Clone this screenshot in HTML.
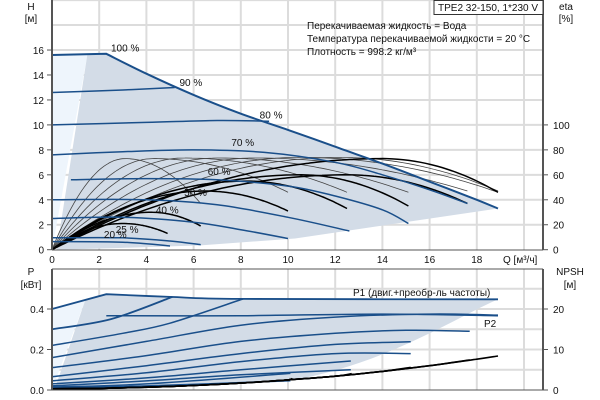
<!DOCTYPE html>
<html><head><meta charset="utf-8"><style>
html,body{margin:0;padding:0;background:#fff;}
svg{display:block;font-family:"Liberation Sans","DejaVu Sans",sans-serif;}
</style></head><body>
<svg id="c" width="600" height="400" viewBox="0 0 600 400"></svg>
<script>
// ---------- data ----------
const qTicks=[0,2,4,6,8,10,12,14,16,18];
const hTicks=[0,2,4,6,8,10,12,14,16];
const etaTicks=[0,20,40,60,80,100];
const pTicks=[0.0,0.2,0.4];
const npshTicks=[0,10,20];
const speedNames=["100 %","90 %","80 %","70 %","60 %","50 %","40 %","25 %","20 %"];
const speedQ=[
 [0,2.3,4,6,8,10,12,14,16,18,18.9],
 [0,3,5.2],
 [0,4,7,9.2],
 [0,3,6,9,12,14,16,17.6],
 [0.8,4,7,10,12,14,15.1],
 [0,4,7,10,12.6],
 [0,3,6,8,10],
 [0,3,5,6.3],
 [0,3,5]];
const speedH=[
 [15.6,15.7,14.1,12.4,10.9,9.6,8.25,6.9,5.45,4.0,3.3],
 [12.6,12.8,13.0],
 [10.0,10.2,10.35,10.3],
 [7.6,7.85,8.0,7.8,7.0,6.0,4.8,3.7],
 [5.6,5.7,5.6,5.1,4.3,3.2,2.1],
 [4.0,4.0,3.6,2.6,1.5],
 [2.5,2.6,2.2,1.6,0.9],
 [0.95,0.95,0.7,0.4],
 [0.65,0.6,0.3]];
const labelQ=[2.5,5.4,8.8,7.6,6.6,5.6,4.4,2.7,2.2];
const labelH=[15.9,13.1,10.5,8.3,6.0,4.3,2.9,1.35,0.95];
const etaThinPeakQ=[3.1,4.3,5.6,7.0,8.6,10.5,12.2];
const etaThinPeak=[73,73,73.5,73.5,73.5,74,74];
const etaThinEndQ=[6.3,10,12.5,15.1,17.6,18.9,18.9];
const etaThinEnd=[37,46,46,46,47,46,47];
const etaThickPeakQ=[3.0,4.2,6.5,8.2,10.5,12.5,14];
const etaThickPeak=[21,30,47,55,60,60,73];
const etaThickEndQ=[4.9,6.3,10,12.5,15.1,17.6,18.9];
const etaThickEnd=[13,19,31,33,35,37,46];
const powQ=[
 [0,2.3,5,8,18.9],[0,2.5,5.1],[0,3,5,8.1],[2.3,8,14,18.9],
 [0,4,8,12,16,18.9],[0,4,8,12,15,17.7],[0,4,8,12,15.2],[0,4,8,12,15.2],
 [0,4,8,12.66],[0,4,8,12.66],[0,4,10.1],[0,4,10.1]];
const powP=[
 [0.40,0.473,0.46,0.45,0.448],[0.30,0.35,0.46],[0.22,0.28,0.33,0.45],[0.367,0.367,0.375,0.367],
 [0.16,0.24,0.32,0.36,0.375,0.37],[0.11,0.17,0.24,0.28,0.295,0.29],[0.065,0.12,0.18,0.225,0.238],[0.045,0.085,0.14,0.18,0.18],
 [0.03,0.06,0.10,0.143],[0.02,0.045,0.075,0.10],[0.015,0.03,0.082],[0.01,0.02,0.046]];
const npshQ=[0,2,4,6,8,10,12,14,16,18,18.9];
const npshVal=[0.3,0.4,0.7,1.1,1.7,2.5,3.4,4.6,6.0,7.6,8.4];
const npshEnds=[10.1,12.7,15.2,17.7,18.9];
// ---------- scales ----------
const X=q=>52+q*23.6, Y=h=>249.7-h*12.48, YE=e=>Y(e/10), YP=p=>390-p*202.5, YN=n=>YP(n/50);
const svg=document.getElementById('c');const NS='http://www.w3.org/2000/svg';
function mk(t,a,txt){const e=document.createElementNS(NS,t);for(const k in a)e.setAttribute(k,a[k]);if(txt!==undefined)e.textContent=txt;svg.appendChild(e);return e;}
function smooth(pts,kink){let d='M'+pts[0][0].toFixed(1)+','+pts[0][1].toFixed(1);
 let start=0;if(kink){d+=' L'+pts[1][0].toFixed(1)+','+pts[1][1].toFixed(1);start=1;}
 for(let i=start;i<pts.length-1;i++){const p0=(i>start?pts[i-1]:pts[i]),p1=pts[i],p2=pts[i+1],p3=pts[i+2]||p2;
 d+=' C'+(p1[0]+(p2[0]-p0[0])/6).toFixed(1)+','+(p1[1]+(p2[1]-p0[1])/6).toFixed(1)+' '+(p2[0]-(p3[0]-p1[0])/6).toFixed(1)+','+(p2[1]-(p3[1]-p1[1])/6).toFixed(1)+' '+p2[0].toFixed(1)+','+p2[1].toFixed(1);}
 return d;}
function etaPts(qp,pk,qe,ee){const pts=[];for(let i=0;i<=40;i++){const q=qe*i/40;let v;
 if(q<=qp)v=pk*(1-Math.pow((qp-q)/qp,2));else v=pk-(pk-ee)*Math.pow((q-qp)/(qe-qp),2);pts.push([X(q),YE(v)]);}return pts;}
let e;
for(let h=2;h<=20;h+=2){e=mk('line',{x1:52,x2:543,y1:Y(h),y2:Y(h),stroke:'#dcdcdc','stroke-width':2});}
for(let q=2;q<=20;q+=2){e=mk('line',{x1:X(q),x2:X(q),y1:0,y2:250,stroke:'#dcdcdc','stroke-width':2});}
e=mk('path',{d:'M'+X(0)+','+Y(0)+' L'+X(0)+','+Y(15.6)+' L'+X(1.5)+','+Y(15.6)+' Z',fill:'#eef5fc'});
{let d='M'+X(0.2)+','+Y(0)+' L'+X(1.5)+','+Y(15.65);const s=speedQ[0];for(let i=1;i<s.length;i++)d+=' L'+X(s[i])+','+Y(speedH[0][i]);
 d+=' L'+X(10.3)+','+Y(0.9)+' L'+X(6.3)+','+Y(0.35)+' L'+X(3)+','+Y(0.15)+' Z';
 e=mk('path',{d:d,fill:'#d3dce7'});}
for(let i=0;i<etaThinPeakQ.length;i++){e=mk('path',{d:smooth(etaPts(etaThinPeakQ[i],etaThinPeak[i],etaThinEndQ[i],etaThinEnd[i])),fill:'none',stroke:'#444','stroke-width':0.8});}
for(let i=0;i<etaThickPeakQ.length;i++){e=mk('path',{d:smooth(etaPts(etaThickPeakQ[i],etaThickPeak[i],etaThickEndQ[i],etaThickEnd[i])),fill:'none',stroke:'#000','stroke-width':1.5});}
for(let i=0;i<speedQ.length;i++){const pts=speedQ[i].map((q,j)=>[X(q),Y(speedH[i][j])]);
 e=mk('path',{d:smooth(pts,i==0),fill:'none',stroke:'#1a4f8a','stroke-width':i==0?2:1.5});
 e=mk('text',{x:X(labelQ[i]),y:Y(labelH[i]),'font-size':10,fill:'#111'},speedNames[i]);}
e=mk('line',{x1:52,x2:52,y1:0,y2:250,stroke:'#555','stroke-width':2});
e=mk('line',{x1:543,x2:543,y1:0,y2:250,stroke:'#555','stroke-width':2});
e=mk('line',{x1:52,x2:543,y1:250,y2:250,stroke:'#555','stroke-width':1});
hTicks.forEach(h=>{e=mk('line',{x1:47,x2:52,y1:Y(h),y2:Y(h),stroke:'#555'});
 e=mk('text',{x:44,y:Y(h)+4,'font-size':10,'text-anchor':'end',fill:'#111'},h);});
etaTicks.forEach(t=>{e=mk('line',{x1:543,x2:548,y1:YE(t),y2:YE(t),stroke:'#555'});
 e=mk('text',{x:553,y:YE(t)+4,'font-size':10,fill:'#111'},t);});
qTicks.forEach(q=>{e=mk('text',{x:X(q),y:263,'font-size':10,'text-anchor':'middle',fill:'#111'},q);});
e=mk('text',{x:503,y:263,'font-size':10,fill:'#111'},'Q [м³/ч]');
e=mk('text',{x:31,y:10,'font-size':10,'text-anchor':'middle',fill:'#111'},'H');
e=mk('text',{x:31,y:22,'font-size':10,'text-anchor':'middle',fill:'#111'},'[м]');
e=mk('text',{x:566,y:10,'font-size':10,'text-anchor':'middle',fill:'#111'},'eta');
e=mk('text',{x:566,y:22,'font-size':10,'text-anchor':'middle',fill:'#111'},'[%]');
e=mk('rect',{x:434,y:0.5,width:109,height:14,fill:'#fff',stroke:'#333'});
e=mk('text',{x:438,y:11,'font-size':10,fill:'#111'},'TPE2 32-150, 1*230 V');
['Перекачиваемая жидкость = Вода','Температура перекачиваемой жидкости = 20 °C','Плотность = 998.2 кг/м³'].forEach((t,i)=>{
 e=mk('text',{x:307,y:29+i*13,'font-size':10,fill:'#111'},t);});
for(let p=0.1;p<=0.55;p+=0.1){e=mk('line',{x1:52,x2:543,y1:YP(p),y2:YP(p),stroke:'#dcdcdc','stroke-width':2});}
for(let q=2;q<=20;q+=2){e=mk('line',{x1:X(q),x2:X(q),y1:269,y2:390,stroke:'#dcdcdc','stroke-width':2});}
e=mk('path',{d:'M'+X(0)+','+YP(0)+' L'+X(0)+','+YP(0.4)+' L'+X(1.4)+','+YP(0.44)+' Z',fill:'#eef5fc'});
{let d='M'+X(0.1)+','+YP(0)+' L'+X(1.4)+','+YP(0.44);const s=powQ[0];for(let i=1;i<s.length;i++)d+=' L'+X(s[i])+','+YP(powP[0][i]);
 d+=' C'+X(17)+','+YP(0.35)+' '+X(14)+','+YP(0.12)+' '+X(10)+','+YP(0.045)+' L'+X(4)+','+YP(0.015)+' Z';
 e=mk('path',{d:d,fill:'#d3dce7'});}
for(let i=0;i<powQ.length;i++){const pts=powQ[i].map((q,j)=>[X(q),YP(powP[i][j])]);
 e=mk('path',{d:smooth(pts,i==0),fill:'none',stroke:'#1a4f8a','stroke-width':i<2?1.8:1.5});}
npshEnds.forEach((qe,k)=>{const pts=[];npshQ.forEach((q,j)=>{if(q<qe)pts.push([X(q),YN(npshVal[j])]);});
 let j=npshQ.findIndex(q=>q>=qe);const v=npshVal[j-1]+(npshVal[j]-npshVal[j-1])*(qe-npshQ[j-1])/(npshQ[j]-npshQ[j-1]);pts.push([X(qe),YN(v+0.3*(4-k)/4)]);
 e=mk('path',{d:smooth(pts),fill:'none',stroke:'#000','stroke-width':1.6});});
e=mk('line',{x1:52,x2:52,y1:269,y2:390,stroke:'#555','stroke-width':2});
e=mk('line',{x1:543,x2:543,y1:269,y2:390,stroke:'#555','stroke-width':2});
e=mk('line',{x1:52,x2:543,y1:269,y2:269,stroke:'#555','stroke-width':1});
e=mk('line',{x1:52,x2:543,y1:390,y2:390,stroke:'#555','stroke-width':1});
pTicks.forEach(p=>{e=mk('line',{x1:47,x2:52,y1:YP(p),y2:YP(p),stroke:'#555'});
 e=mk('text',{x:44,y:YP(p)+4,'font-size':10,'text-anchor':'end',fill:'#111'},p.toFixed(1));});
npshTicks.forEach(n=>{e=mk('line',{x1:543,x2:548,y1:YN(n),y2:YN(n),stroke:'#555'});
 e=mk('text',{x:553,y:YN(n)+4,'font-size':10,fill:'#111'},n);});
e=mk('text',{x:31,y:275,'font-size':10,'text-anchor':'middle',fill:'#111'},'P');
e=mk('text',{x:31,y:288,'font-size':10,'text-anchor':'middle',fill:'#111'},'[кВт]');
e=mk('text',{x:570,y:275,'font-size':10,'text-anchor':'middle',fill:'#111'},'NPSH');
e=mk('text',{x:570,y:288,'font-size':10,'text-anchor':'middle',fill:'#111'},'[м]');
e=mk('text',{x:353,y:296,'font-size':10,fill:'#111'},'P1 (двиг.+преобр-ль частоты)');
e=mk('text',{x:484,y:327,'font-size':10,fill:'#111'},'P2');
</script>
</body></html>
